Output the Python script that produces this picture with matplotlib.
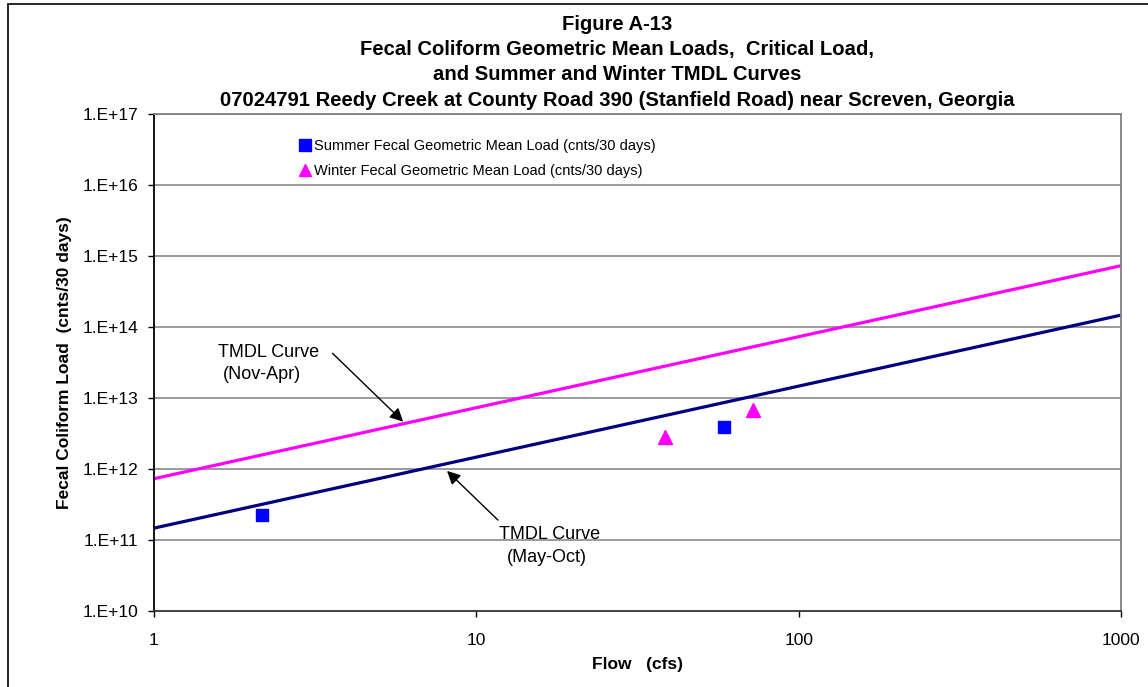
import matplotlib
matplotlib.use("Agg")
import matplotlib.pyplot as plt
from matplotlib.patches import Rectangle

plt.rcParams['font.family'] = ['Liberation Sans', 'DejaVu Sans']

# data
summer_flow = [2.16, 58.7]
summer_load = [2.25e11, 3.9e12]
winter_flow = [38.5, 72.2]
winter_load = [2.8e12, 6.8e12]

curve_flow = [1, 1000]
summer_tmdl = [1.47e11, 1.47e14]
winter_tmdl = [7.3e11, 7.3e14]

yticks = [1e10, 1e11, 1e12, 1e13, 1e14, 1e15, 1e16, 1e17]
ytick_labels = ['1.E+10', '1.E+11', '1.E+12', '1.E+13', '1.E+14', '1.E+15', '1.E+16', '1.E+17']
xticks = [1, 10, 100, 1000]
xtick_labels = ['1', '10', '100', '1000']

title_lines = ["Figure A-13",
               "Fecal Coliform Geometric Mean Loads,  Critical Load,",
               "and Summer and Winter TMDL Curves",
               "07024791 Reedy Creek at County Road 390 (Stanfield Road) near Screven, Georgia"]

fig = plt.figure(figsize=(11.48, 6.87), dpi=100)
ax = fig.add_axes([154/1148, 1-611/687, (1121-154)/1148, (611-114)/687])

ax.set_xscale('log')
ax.set_yscale('log')
ax.set_xlim(1, 1000)
ax.set_ylim(1e10, 1e17)

for y in yticks[1:]:
    ax.axhline(y, color='#808080', lw=1.1, zorder=0)

ax.plot(curve_flow, winter_tmdl, color='#FF00FF', lw=2.3, zorder=2)
ax.plot(curve_flow, summer_tmdl, color='#000080', lw=2.3, zorder=2)

ax.plot(summer_flow, summer_load, ls='none', marker='s', ms=8.5, color='#0000FF',
        label='Summer Fecal Geometric Mean Load (cnts/30 days)', zorder=3)
ax.plot(winter_flow, winter_load, ls='none', marker='^', ms=9.5, color='#FF00FF',
        label='Winter Fecal Geometric Mean Load (cnts/30 days)', zorder=3)

ax.set_yticks(yticks)
ax.set_yticklabels(ytick_labels)
ax.set_xticks(xticks)
ax.set_xticklabels(xtick_labels)
ax.minorticks_off()
ax.tick_params(axis='y', direction='out', length=4.5, width=1, pad=7, labelsize=12.5)
ax.tick_params(axis='x', direction='out', length=4.5, width=1, pad=11, labelsize=12.5)

ax.spines['left'].set_color('black')
ax.spines['bottom'].set_color('#333333')
ax.spines['top'].set_color('#808080')
ax.spines['right'].set_color('#808080')
for s in ax.spines.values():
    s.set_linewidth(1.3)

ax.set_xlabel('Flow   (cfs)', fontsize=12.5, fontweight='bold', labelpad=7)
ax.set_ylabel('Fecal Coliform Load  (cnts/30 days)', fontsize=12.5, fontweight='bold', labelpad=7)

leg = ax.legend(loc='upper left', bbox_to_anchor=(0.143, 0.965), frameon=False,
                fontsize=10.5, borderpad=0, handlelength=0.8, handletextpad=0.2,
                labelspacing=0.75, markerscale=0.95)

# arrows and labels for the TMDL curves
arrow = dict(arrowstyle='-|>', color='black', lw=1, mutation_scale=20, shrinkA=0, shrinkB=0)
ax.annotate('', xy=(5.93, 4.64e12), xytext=(3.58, 4.26e13), arrowprops=arrow)
ax.text(1.58, 3.78e13, 'TMDL Curve', fontsize=13, ha='left', va='baseline')
ax.text(1.64, 1.85e13, '(Nov-Apr)', fontsize=13, ha='left', va='baseline')

ax.annotate('', xy=(8.11, 9.4e11), xytext=(11.67, 1.91e11), arrowprops=arrow)
ax.text(16.9, 1.03e11, 'TMDL Curve', fontsize=13, ha='center', va='baseline')
ax.text(16.6, 4.9e10, '(May-Oct)', fontsize=13, ha='center', va='baseline')

for i, line in enumerate(title_lines):
    fig.text(617/1148, 1-(29.5+25.5*i)/687, line, fontsize=14.6, fontweight='bold',
             ha='center', va='baseline')

fig.patches.append(Rectangle((8/1148, -0.1), 1.5, 0.1+1-4/687, transform=fig.transFigure,
                             fill=False, edgecolor='black', lw=1.2))

fig.savefig('out.png', dpi=100)
